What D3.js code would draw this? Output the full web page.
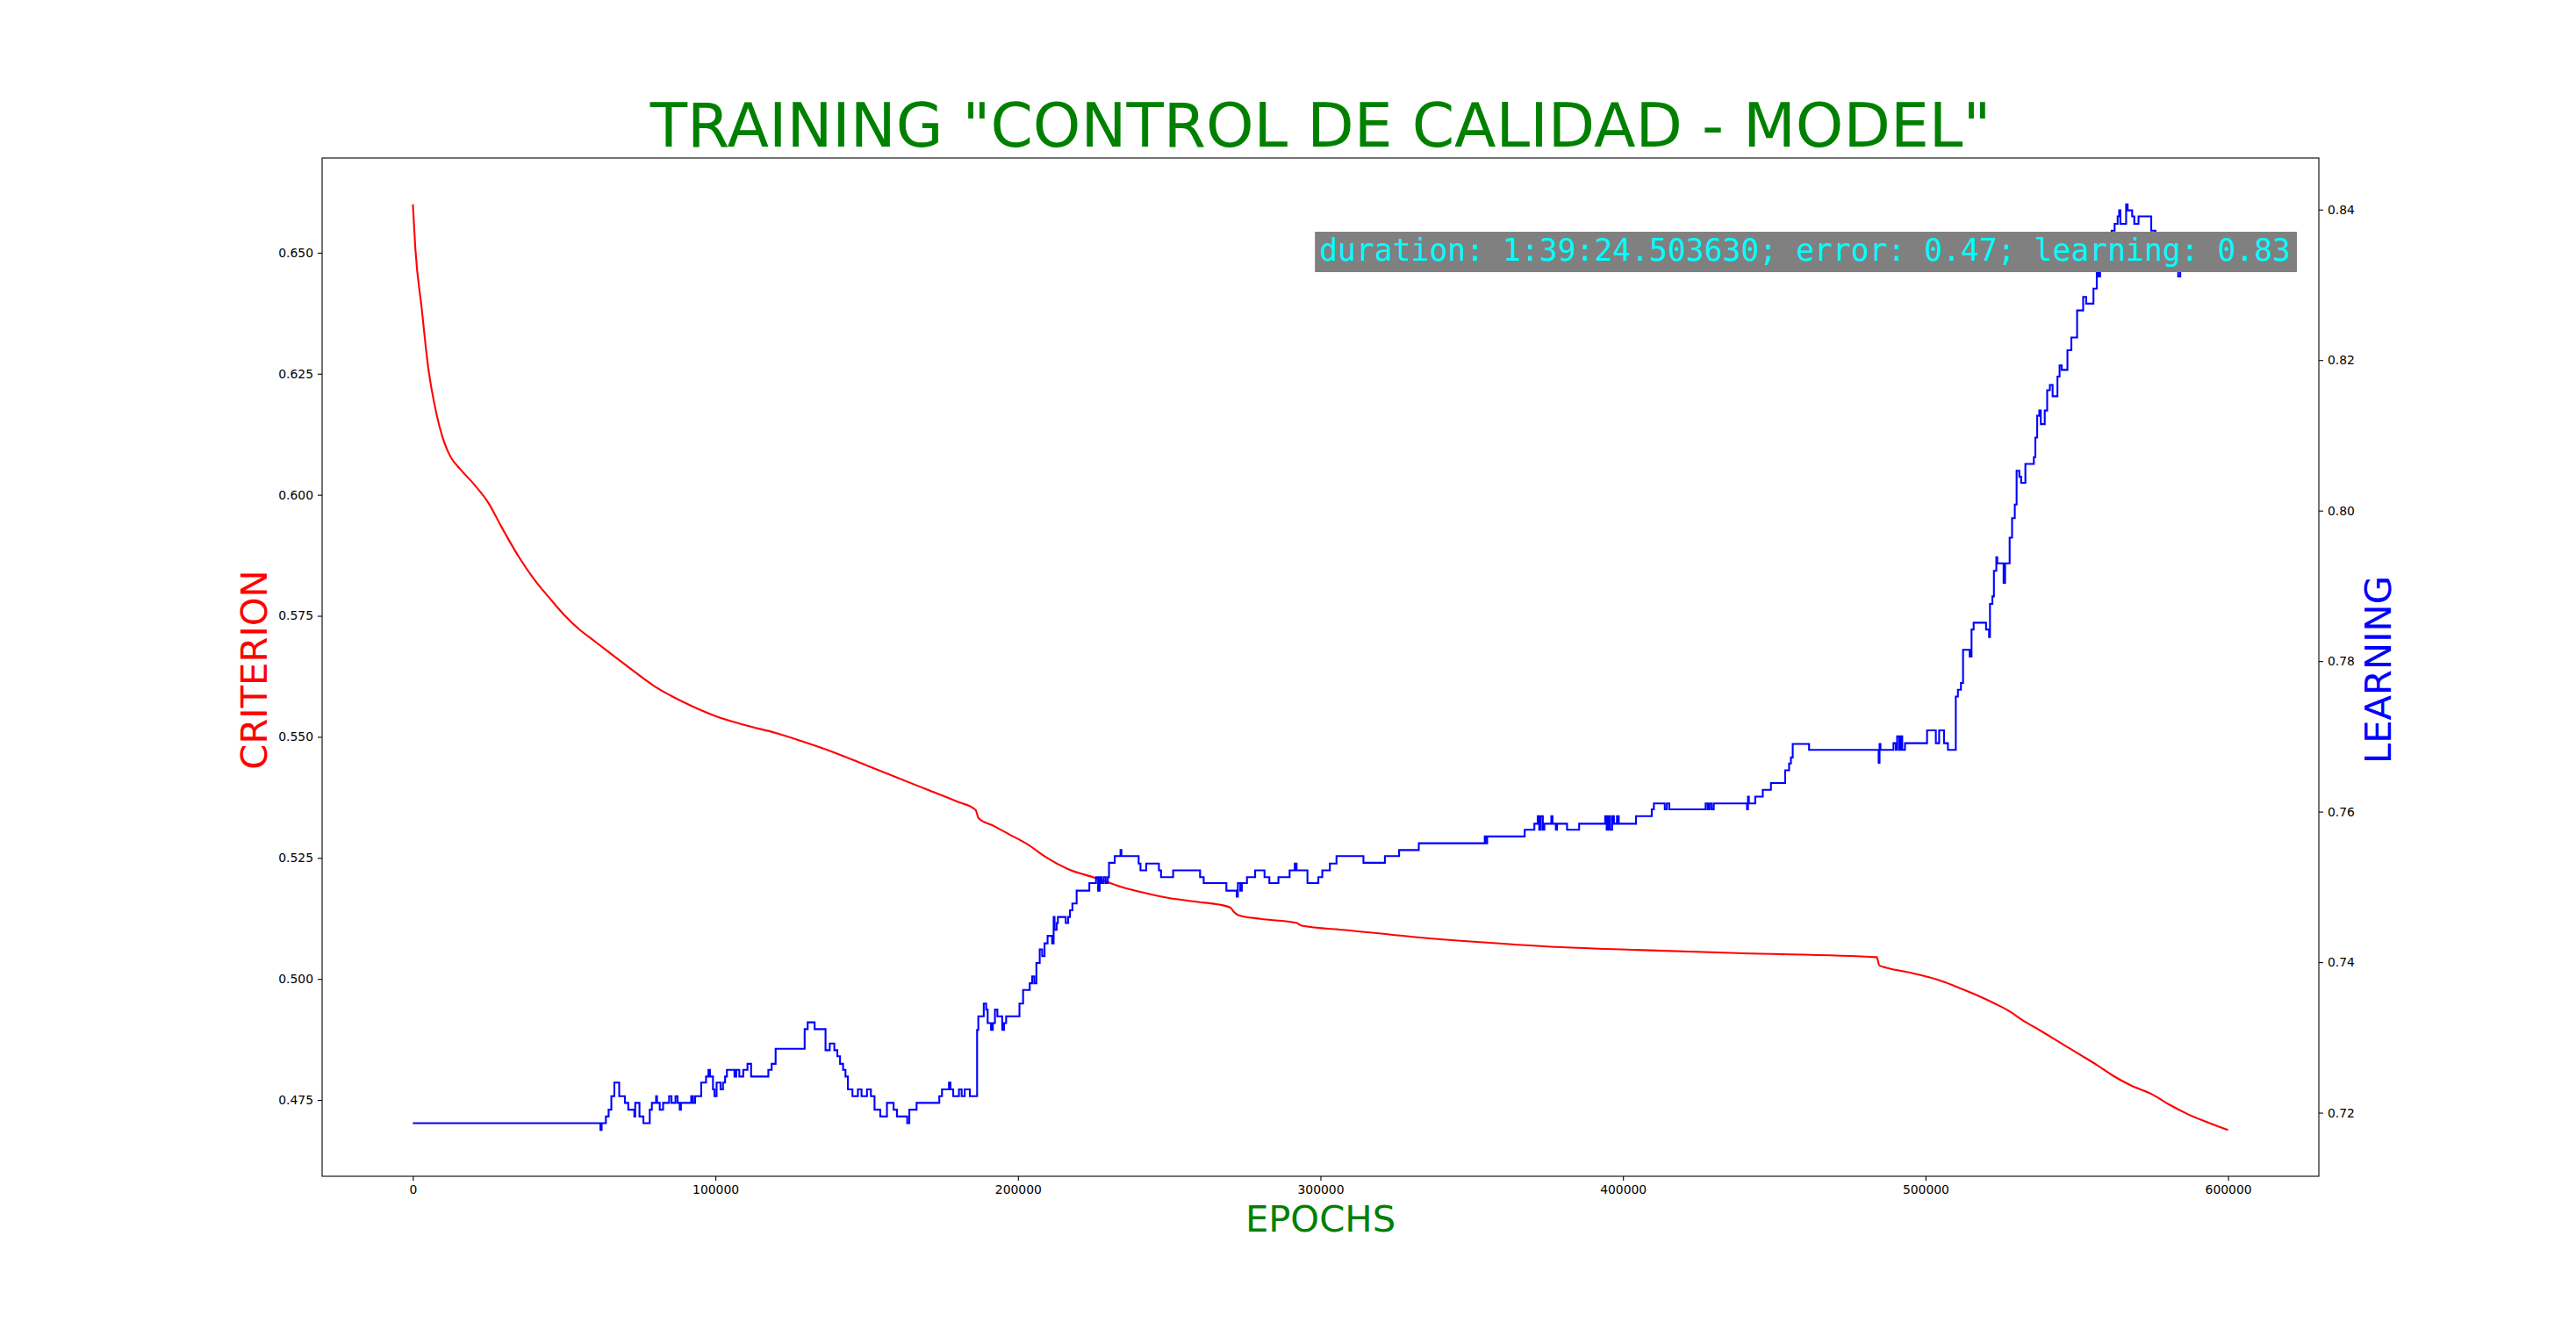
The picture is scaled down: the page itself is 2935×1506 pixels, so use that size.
<!DOCTYPE html>
<html>
<head>
<meta charset="utf-8">
<script src="https://cdn.jsdelivr.net/npm/d3@7/dist/d3.min.js"></script>
<style>
body{margin:0;background:#fff;}
text{font-family:"DejaVu Sans",sans-serif;}
</style>
</head>
<body>
<div id="chart"></div>
<script>
(function(){
"use strict"
//---criterion / learning over epochs---

var titleText = 'TRAINING "CONTROL DE CALIDAD - MODEL"',
	infoText = "duration: 1:39:24.503630; error: 0.47; learning: 0.83";

// criterion (red, left axis)
var critEpochs = [0,800,2900,5000,7700,9700,12500,15500,20300,25100,29000,35000,40000,45000,50000,55000,60000,
	70000,80000,90000,100000,110000,120000,130000,140000,150000,160000,170000,180000,186000,187000,192000,197300,
	203200,209100,216500,225400,234300,241700,249100,259500,266100,270300,271300,272800,280200,292000,293800,
	308300,330500,352700,374900,404500,439800,483900,484700,487100,495000,504200,509400,516000,522600,527800,
	531800,538300,544900,551500,556700,562000,567900,574500,580400,586900,593500,600000];
var critValues = [0.6600,0.6510,0.6386,0.6266,0.6170,0.6121,0.6078,0.6054,0.6021,0.5982,0.5937,0.5872,0.5826,0.5788,0.5752,0.5722,0.5698,
	0.5650,0.5604,0.5570,0.5543,0.5524,0.5508,0.5488,0.5466,0.5441,0.5416,0.5391,0.5366,0.5349,0.5332,0.5316,0.5298,
	0.5278,0.5252,0.5227,0.5209,0.5190,0.5178,0.5168,0.5159,0.5154,0.5147,0.5139,0.5132,0.5124,0.5116,0.5110,
	0.5101,0.5087,0.5076,0.5067,0.5060,0.5053,0.5045,0.5028,0.5023,0.5013,0.4998,0.4986,0.4969,0.4950,0.4933,
	0.4916,0.4892,0.4867,0.4842,0.4822,0.4800,0.4780,0.4763,0.4741,0.4720,0.4703,0.4688];

// learning (blue, right axis), step changes
var learnEpochs = [0,61900,62000,62400,63800,64700,65600,66600,68200,70100,71200,73200,73500,74900,76200,78300,79000,
	80400,80700,81600,82700,84700,85500,86800,87500,88200,88600,89000,92000,92600,93300,95300,96900,97700,98200,
	99200,99700,100400,101700,102500,103200,103800,106300,106900,107900,109200,110600,111800,117500,118600,119900,
	129500,130500,132800,136400,137800,139300,140300,141200,142200,143000,143800,145300,147100,148300,150100,151400,
	152600,154500,156700,158900,160000,163400,164100,166500,174000,174900,177200,177700,178600,180500,181400,182400,
	184100,186500,186900,188700,189500,190000,191100,191700,192400,193200,194800,195400,196100,200500,201700,203900,
	204700,205400,206100,207200,208000,208800,209800,211300,211800,212100,212800,213200,215800,216600,217200,218000,
	219400,223600,225800,226500,227000,227600,228300,229000,229700,230100,232000,233900,234200,239900,240500,242400,
	246600,247300,251300,260200,261400,268900,272300,272700,273500,274000,275700,278400,281500,283100,286100,289800,
	291500,292100,295700,299300,300600,303100,305300,314200,321300,326000,332500,354300,354700,355100,367500,370700,
	371800,372300,372800,373500,374000,376300,376700,377800,378200,381500,385500,394100,394600,395100,395700,396400,
	397000,398000,398600,404300,409500,410200,413800,414500,415300,427300,428000,428600,429300,430000,441000,441300,
	441600,443700,446200,448900,453600,454900,455500,456100,461500,484500,484800,485100,489400,490200,490600,491300,
	491700,492300,493200,500500,503400,504500,506100,507400,510000,510700,511700,512400,514600,515200,515900,520000,
	521000,521300,522100,522600,523400,523700,525800,526300,527800,528600,529500,530100,531000,531600,533000,535800,
	536300,536900,537600,538100,539400,540200,541100,542000,543600,544300,545000,546900,548200,550100,552100,553100,
	555500,556600,557200,557700,559000,561500,562500,563500,564000,564400,566300,566800,568300,569000,570400,574600,
	576000,579300,579600,583500,584200,600000];
var learnValues = [0.7186,0.7186,0.7177,0.7186,0.7195,0.7204,0.7222,0.7240,0.7222,0.7213,0.7204,0.7195,0.7213,0.7195,0.7186,0.7204,0.7213,
	0.7222,0.7213,0.7204,0.7213,0.7222,0.7213,0.7222,0.7213,0.7204,0.7213,0.7213,0.7222,0.7213,0.7222,0.7240,0.7248,0.7257,0.7248,
	0.7231,0.7222,0.7240,0.7231,0.7240,0.7248,0.7257,0.7248,0.7257,0.7248,0.7257,0.7265,0.7248,0.7257,0.7265,0.7285,
	0.7311,0.7320,0.7311,0.7283,0.7292,0.7283,0.7275,0.7265,0.7257,0.7248,0.7231,0.7222,0.7231,0.7222,0.7231,0.7222,
	0.7204,0.7195,0.7213,0.7204,0.7195,0.7186,0.7204,0.7213,0.7222,0.7231,0.7240,0.7231,0.7222,0.7231,0.7222,0.7231,
	0.7222,0.7310,0.7328,0.7345,0.7337,0.7319,0.7310,0.7319,0.7337,0.7328,0.7310,0.7319,0.7328,0.7345,0.7363,0.7372,
	0.7381,0.7372,0.7399,0.7417,0.7408,0.7425,0.7435,0.7425,0.7460,0.7443,0.7452,0.7460,0.7452,0.7460,0.7469,0.7478,
	0.7495,0.7505,0.7513,0.7495,0.7513,0.7505,0.7513,0.7505,0.7513,0.7532,0.7541,0.7549,0.7541,0.7531,0.7522,0.7531,
	0.7522,0.7513,0.7522,0.7513,0.7505,0.7495,0.7487,0.7505,0.7495,0.7505,0.7513,0.7522,0.7513,0.7505,0.7513,0.7522,
	0.7531,0.7522,0.7505,0.7513,0.7522,0.7531,0.7541,0.7532,0.7541,0.7549,0.7558,0.7567,0.7558,0.7567,0.7576,0.7584,
	0.7594,0.7576,0.7594,0.7576,0.7584,0.7594,0.7584,0.7576,0.7584,0.7576,0.7584,0.7594,0.7576,0.7594,0.7576,0.7594,
	0.7584,0.7594,0.7584,0.7594,0.7603,0.7611,0.7603,0.7611,0.7603,0.7611,0.7603,0.7611,0.7603,0.7611,0.7603,0.7620,
	0.7611,0.7620,0.7629,0.7638,0.7655,0.7664,0.7672,0.7690,0.7682,0.7665,0.7690,0.7682,0.7691,0.7682,0.7700,0.7682,
	0.7700,0.7682,0.7691,0.7708,0.7691,0.7708,0.7691,0.7682,0.7753,0.7762,0.7771,0.7815,0.7806,0.7842,0.7851,0.7842,
	0.7832,0.7876,0.7886,0.7920,0.7938,0.7930,0.7904,0.7930,0.7964,0.7990,0.8008,0.8053,0.8045,0.8037,0.8062,0.8071,
	0.8097,0.8126,0.8133,0.8115,0.8133,0.8160,0.8167,0.8152,0.8178,0.8193,0.8187,0.8213,0.8230,0.8266,0.8284,0.8275,
	0.8295,0.8316,0.8311,0.8340,0.8360,0.8372,0.8381,0.8391,0.8399,0.8381,0.8407,0.8399,0.8391,0.8381,0.8391,0.8372,
	0.8355,0.8360,0.8350,0.8311,0.8345,0.8345];

var xTicks = [0,100000,200000,300000,400000,500000,600000],
	critTicks = [0.475,0.500,0.525,0.550,0.575,0.600,0.625,0.650],
	learnTicks = [0.72,0.74,0.76,0.78,0.80,0.82,0.84];

var W = 2935, H = 1506,
	margin = {top:180, right:293, bottom:166, left:367},
	width  = W - margin.left - margin.right,
	height = H - margin.top - margin.bottom;

// matplotlib style 5% padding
var pad = function(ext){
	var d = (ext[1]-ext[0])*0.05;
	return [ext[0]-d, ext[1]+d];
};

var x = d3.scaleLinear().domain(pad(d3.extent(critEpochs))).range([0,width]);
var yL = d3.scaleLinear().domain(pad(d3.extent(critValues))).range([height,0]);
var yR = d3.scaleLinear().domain(pad(d3.extent(learnValues))).range([height,0]);

var svg = d3.select('#chart').append('svg')
	.attr('width',W)
	.attr('height',H)
	.style('background','#fff');

var g = svg.append('g').attr('transform','translate('+margin.left+','+margin.top+')');

var critLine = d3.line()
	.curve(d3.curveMonotoneX)
	.x(function(d){return x(d[0]);})
	.y(function(d){return yL(d[1]);});
var learnLine = d3.line()
	.curve(d3.curveStepAfter)
	.x(function(d){return x(d[0]);})
	.y(function(d){return yR(d[1]);});

g.append('path')
	.datum(d3.zip(critEpochs,critValues))
	.attr('d',critLine)
	.style('fill','none')
	.style('stroke','#ff0000')
	.style('stroke-width',2.1);

g.append('path')
	.datum(d3.zip(learnEpochs,learnValues))
	.attr('d',learnLine)
	.style('fill','none')
	.style('stroke','#0000ff')
	.style('stroke-width',2.1);

//axes
var styleAxis = function(sel){
	sel.select('.domain').remove();
	sel.selectAll('line').style('stroke','#000').style('stroke-width',1.1);
	sel.selectAll('text').style('font-family','"DejaVu Sans"').style('font-size','13.9px').style('fill','#000');
};

g.append('g')
	.attr('transform','translate(0,'+height+')')
	.call(d3.axisBottom(x).tickValues(xTicks).tickFormat(d3.format('d')).tickSize(5).tickPadding(5))
	.call(styleAxis);
g.append('g')
	.call(d3.axisLeft(yL).tickValues(critTicks).tickFormat(d3.format('.3f')).tickSize(5).tickPadding(5))
	.call(styleAxis);
g.append('g')
	.attr('transform','translate('+width+',0)')
	.call(d3.axisRight(yR).tickValues(learnTicks).tickFormat(d3.format('.2f')).tickSize(5).tickPadding(5))
	.call(styleAxis);

g.append('rect')
	.attr('width',width)
	.attr('height',height)
	.style('fill','none')
	.style('stroke','#000')
	.style('stroke-width',1.1);

//labels
svg.append('text')
	.attr('x',margin.left+width/2)
	.attr('y',167)
	.attr('text-anchor','middle')
	.style('font-size','69.4px')
	.style('fill','#008000')
	.text(titleText);

svg.append('text')
	.attr('x',margin.left+width/2)
	.attr('y',1403)
	.attr('text-anchor','middle')
	.style('font-size','41.7px')
	.style('fill','#008000')
	.text('EPOCHS');

svg.append('text')
	.attr('transform','translate(304,'+(margin.top+height/2+3)+') rotate(-90)')
	.attr('text-anchor','middle')
	.style('font-size','41.7px')
	.style('fill','#ff0000')
	.text('CRITERION');

svg.append('text')
	.attr('transform','translate(2724,'+(margin.top+height/2+3)+') rotate(-90)')
	.attr('text-anchor','middle')
	.style('font-size','41.7px')
	.style('fill','#0000ff')
	.text('LEARNING');

//info box
var info = svg.append('g');
var infoBg = info.append('rect');
var infoTxt = info.append('text')
	.attr('x',2610)
	.attr('y',297)
	.attr('text-anchor','end')
	.style('font-family','"DejaVu Sans Mono",monospace')
	.style('font-size','34.7px')
	.style('fill','#00ffff')
	.text(infoText);
var bb = infoTxt.node().getBBox();
infoBg
	.attr('x',bb.x-5)
	.attr('y',264)
	.attr('width',bb.width+12)
	.attr('height',46)
	.style('fill','#808080');

})();
</script>
</body>
</html>
